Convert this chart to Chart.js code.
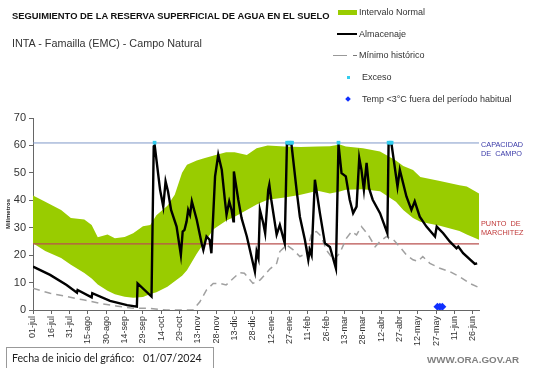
<!DOCTYPE html>
<html>
<head>
<meta charset="utf-8">
<script src="https://cdn.jsdelivr.net/npm/chart.js@4/dist/chart.umd.min.js"></script>
<style>
  body { margin: 0; background: #fff; }
  #wrap { position: relative; width: 541px; height: 368px; overflow: hidden; font-family: 'Liberation Sans', Arial, sans-serif; }
  #chart { position: absolute; left: 0; top: 0; }
  .txt { position: absolute; white-space: nowrap; color: #222; line-height: 1; }
  .leg { position: absolute; white-space: nowrap; color: #333; font-family: 'Liberation Sans', Arial, sans-serif; font-size: 9px; line-height: 1; }
  .sw { position: absolute; }
</style>
</head>
<body>
<div id="wrap">
  <canvas id="chart" width="541" height="368"></canvas>

  <div class="txt" style="left:12px; top:11px; font-size:9.4px; font-weight:bold; color:#111;">SEGUIMIENTO DE LA RESERVA SUPERFICIAL DE AGUA EN EL SUELO</div>
  <div class="txt" style="left:12px; top:38px; font-size:10.8px; color:#333;">INTA - Famailla (EMC) - Campo Natural</div>

  <!-- leyenda -->
  <div class="sw" style="left:338px; top:10px; width:19px; height:5px; background:#99cc00;"></div>
  <div class="leg" style="left:359px; top:8px;">Intervalo Normal</div>
  <div class="sw" style="left:337px; top:33px; width:20px; height:2px; background:#000;"></div>
  <div class="leg" style="left:359px; top:30px;">Almacenaje</div>
  <div class="sw" style="left:333px; top:54.5px; width:14px; height:1.5px; background:#999;"></div>
  <div class="sw" style="left:353px; top:54.5px; width:4px; height:1.5px; background:#777;"></div>
  <div class="leg" style="left:359px; top:51px;">Mínimo histórico</div>
  <div class="sw" style="left:346.5px; top:76px; width:3px; height:3px; background:#33ccee;"></div>
  <div class="leg" style="left:362px; top:73px;">Exceso</div>
  <div class="sw" style="left:346px; top:97px; width:4px; height:4px; background:#1030ff; transform:rotate(45deg);"></div>
  <div class="leg" style="left:362px; top:95px;">Temp &lt;3°C fuera del período habitual</div>

  <!-- pie -->
  <div class="sw" style="left:6px; top:347px; width:208px; height:22px; border:1px solid #999; box-sizing:border-box;"></div>
  <div class="txt" style="left:12px; top:352.5px; font-size:10.6px; font-family:Lato, 'Open Sans', sans-serif; color:#222;">Fecha de inicio del gráfico:</div>
  <div class="txt" style="left:143px; top:352.5px; font-size:10.6px; font-family:Lato, 'Open Sans', sans-serif; color:#222;">01/07/2024</div>
  <div class="txt" style="left:427px; top:355px; font-size:9.8px; font-weight:bold; color:#808080;">WWW.ORA.GOV.AR</div>
</div>

<script>
// eje x: dias desde 01/07/2024
const tickDays = [0, 15, 30, 45, 60, 75, 90, 105, 120, 135, 150, 165, 180, 195, 210, 225, 240, 255, 270, 285, 300, 315, 330, 345, 360];
const tickLabels = ['01-jul', '16-jul', '31-jul', '15-ago', '30-ago', '14-sep', '29-sep', '14-oct', '29-oct', '13-nov', '28-nov', '13-dic', '28-dic', '12-ene', '27-ene', '11-feb', '26-feb', '13-mar', '28-mar', '12-abr', '27-abr', '12-may', '27-may', '11-jun', '26-jun'];

// intervalo normal (banda verde)
const bandDays = [0, 10, 23, 31, 42, 48, 53, 61, 67, 75, 82, 90, 96, 101, 110, 116, 122, 126, 134, 140, 148, 158, 165, 175, 183, 192, 206, 219, 233, 243, 251, 256, 270, 284, 297, 303, 311, 317, 333, 349, 355, 365];
const bandLow = [24.3, 21.5, 19, 16.5, 13.5, 11.5, 9.3, 7, 5.7, 4.8, 4.5, 4.7, 5.8, 6.5, 8.5, 10.5, 12.5, 14.5, 20.5, 24.5, 29.5, 32.5, 34, 36.5, 38.5, 40.2, 41, 42, 43.5, 42.5, 43.2, 43.8, 44, 43.3, 39.5, 36.5, 33.5, 32.2, 30.7, 28.8, 27.5, 25.6];
const bandHigh = [41.7, 39.5, 36.5, 33.5, 33, 31, 26.5, 27.5, 26.2, 26.6, 28, 30.5, 31, 34.5, 38, 42, 50, 53, 54.5, 55.3, 56.3, 57.5, 57.5, 56.5, 59, 60, 59.6, 59.4, 59.6, 59.7, 60.3, 59.6, 59, 57.8, 54.5, 52.5, 51, 48.5, 47, 45.5, 45, 42.5];

// almacenaje
const almDays = [0, 14, 27.5, 36, 36.5, 48, 48.5, 63, 77, 85, 85.6, 97, 98.8, 99.6, 104, 106.6, 108.5, 110.5, 113, 117.5, 121, 122.5, 124, 125.7, 127, 128.5, 130, 134, 138, 139.4, 142, 144.5, 146, 149, 151.6, 154.5, 157, 158.4, 160.6, 162.5, 164, 164.4, 168, 170.7, 175, 181.6, 183, 184.5, 185.7, 188.4, 190, 192.5, 193.4, 195, 199.4, 202, 206, 207.8, 211.5, 215.7, 218.4, 222.5, 225.3, 226.5, 228, 230.7, 234.8, 238.9, 243, 247.9, 250, 252.5, 256, 259.2, 262, 264.8, 267, 268.8, 270.8, 273, 275, 278, 284, 290, 291, 293.4, 298.3, 300.2, 305.6, 309.7, 312.4, 316.5, 322, 329, 330.4, 335.7, 341, 346.6, 348, 352, 361.6, 363.5];
const almVals = [15.8, 12.8, 9.1, 6.3, 7.3, 4.6, 6.1, 3.3, 1.8, 1.2, 9.7, 4.9, 59.7, 60, 43.8, 37.7, 46.9, 43.2, 36.5, 30.4, 20.1, 28.6, 29.2, 32.3, 36.5, 34.7, 39.6, 32.9, 24.3, 21.9, 26.8, 25.6, 20.7, 48.7, 56.6, 51.1, 40.2, 34.7, 39.6, 36.5, 32.3, 50.5, 40.2, 33.5, 26.8, 14, 21.3, 18.9, 36.5, 31.7, 28, 43.8, 45.7, 40.2, 27.5, 31, 24.3, 60.5, 60.5, 43.8, 34, 25.6, 18.3, 21.9, 20, 47.5, 35.3, 24.3, 23, 15.2, 60.5, 49.9, 48.7, 40.2, 35.3, 37.7, 55.4, 51.1, 43.8, 53.6, 44.4, 40.2, 35.3, 28, 60.5, 60.5, 45, 51.1, 41.4, 36.5, 39.6, 34, 30.4, 26.8, 30.4, 28, 25, 22.5, 23.1, 20.7, 16.8, 17];

// minimo historico
const minDays = [0, 14, 27.5, 41, 55, 68, 82, 96, 109, 131, 136.6, 142, 147.5, 153, 158, 164, 169, 173, 180, 186, 194, 199.4, 202, 207.5, 213, 218.4, 224, 228, 232, 236, 240, 246, 251, 256.6, 260.7, 264.8, 268.8, 274.3, 280, 284, 289.4, 295, 300, 305.6, 311, 315, 319, 324.8, 333, 341, 349, 357.5, 365];
const minVals = [7.9, 6.1, 4.9, 3.7, 2.4, 1.5, 0.6, 0.6, 0, 0, 3, 7.3, 9.7, 9.7, 9.1, 11.6, 13.6, 13.4, 9.7, 11, 15, 17, 21.3, 23.7, 21.9, 19.5, 20.7, 28, 28.6, 26.8, 21.9, 18.3, 20.7, 26.2, 28.6, 27.4, 30.4, 27.4, 23.1, 25, 26.8, 25.6, 23.1, 20.1, 18.3, 17.7, 19.5, 17, 15.2, 14, 12.2, 9.7, 8.2];

// exceso y temperatura
const excesoDays = [99.5, 208, 209.5, 211, 212, 250, 291, 292.5, 293.5];
const excesoVal = 61;
const tempDays = [331, 333, 335];
const tempVal = 1.2;

// umbrales
const capacidadCampo = 60.9;
const puntoMarchitez = 24.1;

const pts = (xs, ys) => xs.map((x, i) => ({ x: x, y: Array.isArray(ys) ? ys[i] : ys }));

const refLabels = {
  id: 'refLabels',
  afterDatasetsDraw(chart) {
    const { ctx, chartArea, scales: { y } } = chart;
    const x0 = chartArea.right + 2;
    ctx.save();
    ctx.font = '7.3px "Liberation Sans", Arial, sans-serif';
    ctx.textBaseline = 'middle';
    ctx.fillStyle = '#3a3aa8';
    let yc = y.getPixelForValue(capacidadCampo);
    ctx.fillText('CAPACIDAD', x0, yc + 2);
    ctx.fillText('DE  CAMPO', x0, yc + 11);
    ctx.fillStyle = '#c03a3a';
    yc = y.getPixelForValue(puntoMarchitez);
    ctx.fillText('PUNTO  DE', x0, yc - 20);
    ctx.fillText('MARCHITEZ', x0, yc - 11);
    ctx.restore();
  }
};

const ctx = document.getElementById('chart').getContext('2d');
new Chart(ctx, {
  type: 'line',
  data: {
    datasets: [
      { label: 'low', data: pts(bandDays, bandLow), borderWidth: 0, pointRadius: 0, fill: false, order: 10 },
      { label: 'Intervalo Normal', data: pts(bandDays, bandHigh), borderWidth: 0, pointRadius: 0,
        fill: { target: 0 }, backgroundColor: '#99cc00', order: 9 },
      { label: 'cap', data: pts([0, 365], capacidadCampo), borderColor: '#7f98c8', borderWidth: 1, pointRadius: 0, order: 5 },
      { label: 'pm', data: pts([0, 365], puntoMarchitez), borderColor: '#b9504f', borderWidth: 1.3, pointRadius: 0, order: 5 },
      { label: 'Mínimo histórico', data: pts(minDays, minVals), borderColor: '#a0a0a0', borderWidth: 1.5,
        borderDash: [7, 5], pointRadius: 0, order: 4 },
      { label: 'Almacenaje', data: pts(almDays, almVals), borderColor: '#000', borderWidth: 2.4, pointRadius: 0, order: 2 },
      { label: 'Exceso', data: pts(excesoDays, excesoVal), showLine: false, pointStyle: 'rect', pointRadius: 2.6,
        backgroundColor: '#33ccee', borderWidth: 0, order: 1 },
      { label: 'Temp', data: pts(tempDays, tempVal), showLine: false, pointStyle: 'rectRot', pointRadius: 4,
        backgroundColor: '#1030ff', borderWidth: 0, order: 0 }
    ]
  },
  options: {
    responsive: false,
    animation: false,
    devicePixelRatio: 1,
    layout: { padding: { left: 0, top: 118, right: 62, bottom: 0 } },
    elements: { line: { tension: 0 } },
    plugins: { legend: { display: false }, tooltip: { enabled: false } },
    scales: {
      x: {
        type: 'linear', min: 0, max: 365,
        afterBuildTicks: s => { s.ticks = tickDays.map(v => ({ value: v })); },
        afterFit: s => { s.height = 58; },
        ticks: {
          autoSkip: false, minRotation: 90, maxRotation: 90, padding: 2,
          font: { size: 9, family: 'Liberation Sans' }, color: '#333',
          callback: (v, i) => tickLabels[i]
        },
        grid: { drawOnChartArea: false, tickLength: 4, color: '#666' },
        border: { color: '#666' }
      },
      y: {
        min: 0, max: 70,
        afterFit: s => { s.width = 33; },
        ticks: { stepSize: 10, padding: 3, font: { size: 11, family: 'Liberation Sans' }, color: '#333' },
        title: { display: true, text: 'Milímetros', padding: { top: 4.5, bottom: 0 },
          font: { size: 6, weight: 'bold', family: 'Liberation Sans' }, color: '#222' },
        grid: { drawOnChartArea: false, tickLength: 4, color: '#666' },
        border: { color: '#666' }
      }
    }
  },
  plugins: [refLabels]
});
</script>
</body>
</html>
